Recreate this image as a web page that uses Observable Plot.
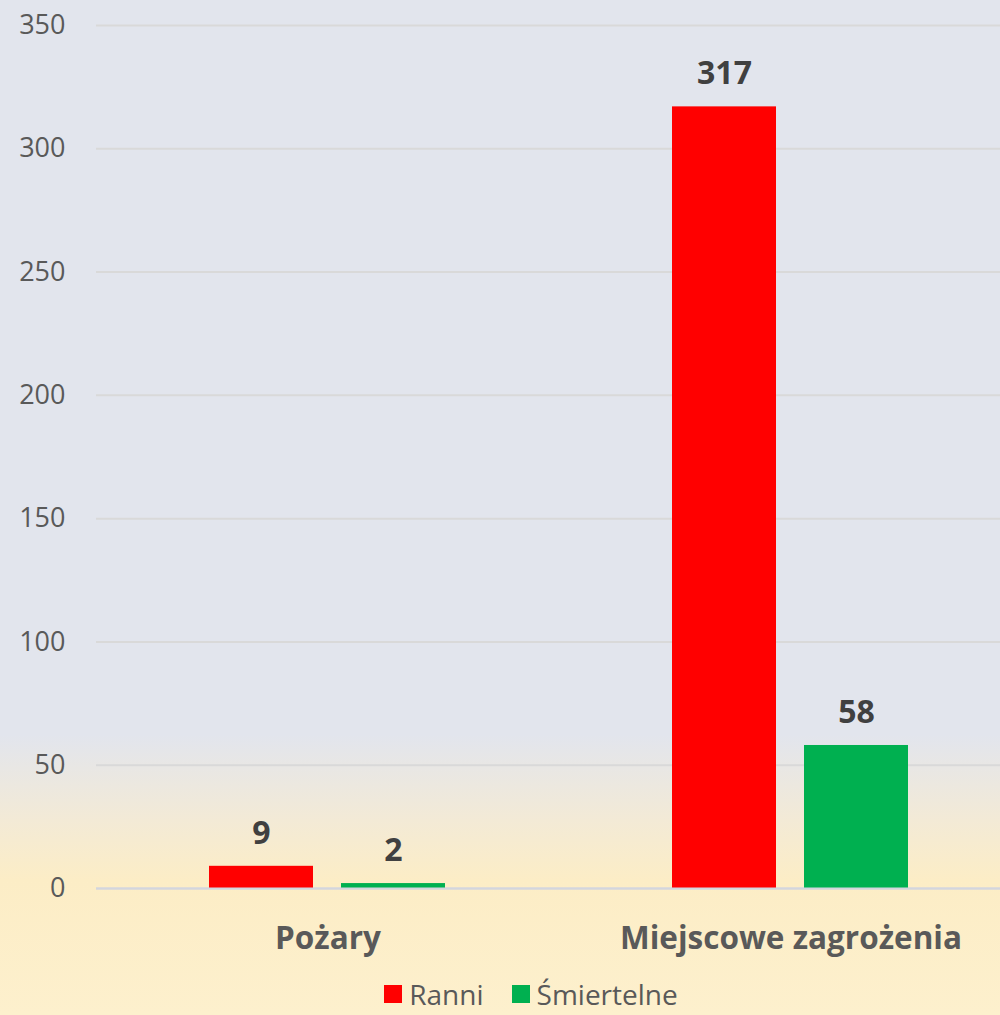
<!DOCTYPE html>
<html>
<head>
<meta charset="utf-8">
<script src="https://cdn.jsdelivr.net/npm/d3@7"></script>
<script src="https://cdn.jsdelivr.net/npm/@observablehq/plot@0.6"></script>
<style>
  html, body { margin: 0; padding: 0; width: 1000px; height: 1015px; overflow: hidden; }
  body {
    background: linear-gradient(to bottom, #e2e5ed 0px, #e2e5ed 735px, #f3ead6 820px, #fcedc6 880px, #fdf0cd 1015px);
    font-family: "Open Sans", sans-serif;
  }
  #chart svg { display: block; background: transparent; }
  #legend { display: flex; justify-content: center; align-items: center; gap: 28px; height: 40px; font-size: 28px; line-height: 40px; color: #595959; margin-left: 62px; margin-top: 4px; }
  #legend .item { display: flex; align-items: center; gap: 7px; }
  #legend .sw { width: 18px; height: 18px; display: inline-block; }
</style>
</head>
<body>
<div id="chart"></div>
<div id="legend"></div>
<script>
const categories = ["Pożary", "Miejscowe zagrożenia"];
const seriesNames = ["Ranni", "Śmiertelne"];
const ranni = [9, 317];
const smiertelne = [2, 58];
const yTicks = [0, 50, 100, 150, 200, 250, 300, 350];
const colors = ["#ff0000", "#00b050"];

const rows = [];
categories.forEach((c, i) => {
  rows.push({category: c, series: seriesNames[0], value: ranni[i]});
  rows.push({category: c, series: seriesNames[1], value: smiertelne[i]});
});

const chart = Plot.plot({
  width: 1022,
  height: 970,
  marginLeft: 96,
  marginRight: 0,
  marginTop: 25,
  marginBottom: 82,
  style: {background: "transparent", maxWidth: "none", overflow: "visible", fontFamily: "Open Sans, sans-serif"},
  fx: {domain: categories, padding: 0, label: null},
  x: {domain: seriesNames, paddingInner: 0.212, paddingOuter: 0.856, axis: null},
  y: {domain: [0, 350], label: null},
  color: {domain: seriesNames, range: colors},
  marks: [
    Plot.gridY({ticks: yTicks, stroke: "#d9d9d9", strokeOpacity: 1, strokeWidth: 2}),
    Plot.axisY({ticks: yTicks, tickSize: 0, tickPadding: 31, fontSize: 27, fill: "#595959", label: null}),
    Plot.axisFx({anchor: "bottom", tickSize: 0, tickPadding: 38, fontSize: 31.5, fontWeight: "bold", fill: "#595959", label: null}),
    Plot.barY(rows, {fx: "category", x: "series", y: "value", fill: "series"}),
    Plot.ruleY([0], {stroke: "#d3d6de", strokeWidth: 2}),
    Plot.text(rows, {fx: "category", x: "series", y: "value", text: d => String(d.value), dy: -33, fontSize: 32, fontWeight: "bold", fill: "#404040"})
  ]
});
document.getElementById("chart").appendChild(chart);

const legend = document.getElementById("legend");
seriesNames.forEach((s, i) => {
  const item = document.createElement("div");
  item.className = "item";
  const sw = document.createElement("span");
  sw.className = "sw";
  sw.style.background = colors[i];
  const t = document.createElement("span");
  t.textContent = s;
  item.appendChild(sw);
  item.appendChild(t);
  legend.appendChild(item);
});
</script>
</body>
</html>
